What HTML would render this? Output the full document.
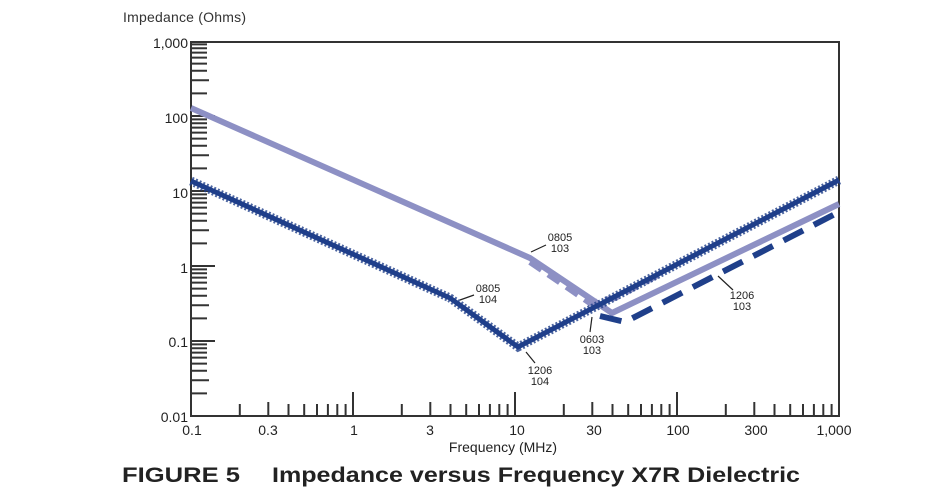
<!DOCTYPE html>
<html><head><style>
html,body{margin:0;padding:0;background:#fff;}
svg{display:block;font-family:"Liberation Sans",Arial,sans-serif;}
</style></head><body>
<svg width="950" height="500" viewBox="0 0 950 500" xmlns="http://www.w3.org/2000/svg">
<rect width="950" height="500" fill="#fff"/>
<text x="123" y="22" font-size="14" fill="#333" textLength="123">Impedance (Ohms)</text>
<g font-size="14" fill="#222" text-anchor="end">
<text x="188" y="48">1,000</text>
<text x="188" y="123">100</text>
<text x="188" y="198">10</text>
<text x="188" y="273">1</text>
<text x="188" y="347">0.1</text>
<text x="188" y="422">0.01</text>
</g>
<g font-size="14" fill="#222" text-anchor="middle">
<text x="192" y="435">0.1</text>
<text x="268" y="435">0.3</text>
<text x="354" y="435">1</text>
<text x="430" y="435">3</text>
<text x="517" y="435">10</text>
<text x="594" y="435">30</text>
<text x="678" y="435">100</text>
<text x="756" y="435">300</text>
<text x="834" y="435">1,000</text>
<text x="503" y="452">Frequency (MHz)</text>
</g>
<text x="122" y="482" font-size="21" font-weight="bold" fill="#222" textLength="118" lengthAdjust="spacingAndGlyphs">FIGURE 5</text>
<text x="272" y="482" font-size="21" font-weight="bold" fill="#222" textLength="528" lengthAdjust="spacingAndGlyphs">Impedance versus Frequency X7R Dielectric</text>
<rect x="191" y="42" width="648" height="374" fill="none" stroke="#333" stroke-width="2"/>
<path stroke="#333" stroke-width="2" fill="none" d="
M239.8 416V404M268.3 416V402M288.5 416V404M304.2 416V404M317 416V404M327.9 416V404M337.3 416V404M345.6 416V404M353 416V392
M401.8 416V404M430.3 416V402M450.5 416V404M466.2 416V404M479 416V404M489.9 416V404M499.3 416V404M507.6 416V404M515 416V392
M563.8 416V404M592.3 416V402M612.5 416V404M628.2 416V404M641 416V404M651.9 416V404M661.3 416V404M669.6 416V404M677 416V392
M725.8 416V404M754.3 416V402M774.5 416V404M790.2 416V404M803 416V404M813.9 416V404M823.3 416V404M831.6 416V404
M191 393.4h16M191 380.2h18M191 370.8h16M191 363.6h16M191 357.6h16M191 352.6h16M191 348.3h16M191 344.4h16M191 341h24
M191 318.4h16M191 305.2h18M191 295.8h16M191 288.6h16M191 282.6h16M191 277.6h16M191 273.3h16M191 269.4h16M191 266h24
M191 243.4h16M191 230.2h18M191 220.8h16M191 213.6h16M191 207.6h16M191 202.6h16M191 198.3h16M191 194.4h16M191 191h24
M191 168.4h16M191 155.2h18M191 145.8h16M191 138.6h16M191 132.6h16M191 127.6h16M191 123.3h16M191 119.4h16M191 116h24
M191 93.4h16M191 80.2h18M191 70.8h16M191 63.6h16M191 57.6h16M191 52.6h16M191 48.3h16M191 44.4h16M191 42h24"/>
<!-- light solid 0805 103 -->
<polyline fill="none" stroke="#8d90c4" stroke-width="6" points="191,108 530,258 612,313 839,204"/>
<!-- light dashed -->
<polyline fill="none" stroke="#8d90c4" stroke-width="6" stroke-dasharray="14,8" points="530,262 590,303 615,298 660,274"/>
<!-- dark dashed 1206 103 -->
<polyline fill="none" stroke="#1f3f8a" stroke-width="6" stroke-dasharray="22,12" points="600,316 625,322 839,212"/>
<!-- dark serrated -->
<polyline fill="none" stroke="#1f3f8a" stroke-width="5" points="191,181 450,298 518,347 839,180"/>
<polyline fill="none" stroke="#1f3f8a" stroke-width="9" stroke-dasharray="2,2" points="191,181 450,298 518,347 839,180" opacity="0.8"/>
<g font-size="11" fill="#222" text-anchor="middle">
<text x="560" y="241">0805</text><text x="560" y="252">103</text>
<text x="488" y="292">0805</text><text x="488" y="303">104</text>
<text x="592" y="343">0603</text><text x="592" y="354">103</text>
<text x="540" y="374">1206</text><text x="540" y="385">104</text>
<text x="742" y="299">1206</text><text x="742" y="310">103</text>
</g>
<g stroke="#222" stroke-width="1.2" fill="none">
<line x1="546" y1="245" x2="531" y2="252"/>
<line x1="474" y1="295" x2="460" y2="300"/>
<line x1="590" y1="332" x2="592" y2="317"/>
<line x1="535" y1="363" x2="526" y2="352"/>
<line x1="733" y1="290" x2="718" y2="276"/>
</g>
</svg>
</body></html>
